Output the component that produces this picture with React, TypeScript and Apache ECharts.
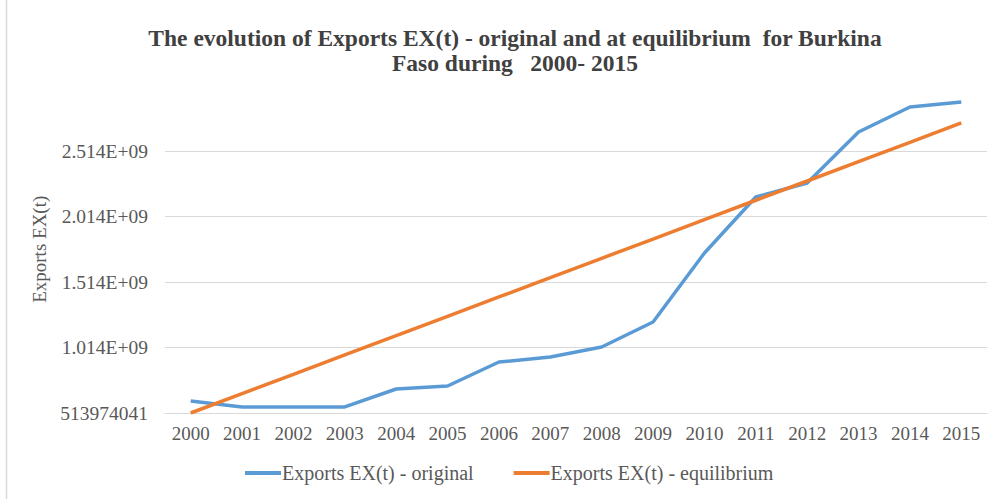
import React, { useEffect, useRef } from "react";
import * as echarts from "echarts";

const years = ["2000","2001","2002","2003","2004","2005","2006","2007","2008","2009","2010","2011","2012","2013","2014","2015"];
const original = [0.606e9,0.560e9,0.560e9,0.560e9,0.697e9,0.720e9,0.903e9,0.941e9,1.018e9,1.209e9,1.735e9,2.163e9,2.270e9,2.659e9,2.850e9,2.888e9];
const equilibrium = [0.514e9,0.662e9,0.809e9,0.957e9,1.104e9,1.252e9,1.400e9,1.547e9,1.695e9,1.842e9,1.990e9,2.138e9,2.285e9,2.433e9,2.580e9,2.728e9];
const yMin = 513974041;
const yStep = 5e8;
const yMax = 3013974041;
const seriesNames = ["Exports EX(t) - original", "Exports EX(t) - equilibrium"];

const FONT = "'Liberation Serif', 'Times New Roman', serif";

export default function App() {
  const ref = useRef<HTMLDivElement>(null);
  useEffect(() => {
    if (!ref.current) return;
    const chart = echarts.init(ref.current, null, { renderer: "svg" });
    const grid = "#d9d9d9";
    chart.setOption({
      animation: false,
      backgroundColor: "#ffffff",
      textStyle: { fontFamily: FONT },
      title: {
        text: "The evolution of Exports EX(t) - original and at equilibrium  for Burkina\nFaso during   2000- 2015",
        left: 510,
        top: 20,
        textAlign: "center",
        textStyle: { fontFamily: FONT, fontSize: 23.5, fontWeight: "bold", color: "#404040", lineHeight: 25 },
      },
      legend: {
        left: 240,
        top: 458,
        itemGap: 40,
        itemWidth: 36,
        itemHeight: 4,
        icon: "rect",
        textStyle: { fontFamily: FONT, fontSize: 20, color: "#595959", padding: [0, 0, 0, -4] },
        data: seriesNames,
      },
      grid: { left: 165, right: 11, top: 85.5, bottom: 86 },
      xAxis: {
        type: "category",
        data: years,
        boundaryGap: true,
        axisTick: { show: false },
        axisLine: { lineStyle: { color: grid, width: 1 } },
        axisLabel: { fontFamily: FONT, fontSize: 19, color: "#595959", margin: 11 },
      },
      yAxis: {
        type: "value",
        min: yMin,
        max: yMax,
        interval: yStep,
        name: "Exports EX(t)",
        nameLocation: "middle",
        nameGap: 115,
        nameTextStyle: { fontFamily: FONT, fontSize: 19, color: "#595959" },
        axisLine: { show: false },
        axisTick: { show: false },
        splitLine: { lineStyle: { color: [grid, grid, grid, grid, grid, "rgba(0,0,0,0)"], width: 1 } },
        axisLabel: {
          fontFamily: FONT,
          fontSize: 19.5,
          color: "#595959",
          margin: 17,
          showMaxLabel: false,
          formatter: (v: number) => (Math.abs(v - yMin) < 1 ? String(yMin) : (v / 1e9).toFixed(3) + "E+09"),
        },
      },
      series: [
        {
          name: seriesNames[0],
          type: "line",
          data: original,
          symbol: "none",
          lineStyle: { color: "#5b9bd5", width: 3.5 },
          itemStyle: { color: "#5b9bd5" },
        },
        {
          name: seriesNames[1],
          type: "line",
          data: equilibrium,
          symbol: "none",
          lineStyle: { color: "#ed7d31", width: 3.5 },
          itemStyle: { color: "#ed7d31" },
        },
      ],
      graphic: [
        { type: "line", shape: { x1: 6.5, y1: 0, x2: 6.5, y2: 499 }, style: { stroke: "#d9d9d9", lineWidth: 1.5 } },
      ],
    });
    return () => chart.dispose();
  }, []);
  return <div ref={ref} style={{ position: "absolute", left: 0, top: 0, width: 998, height: 499 }} />;
}
